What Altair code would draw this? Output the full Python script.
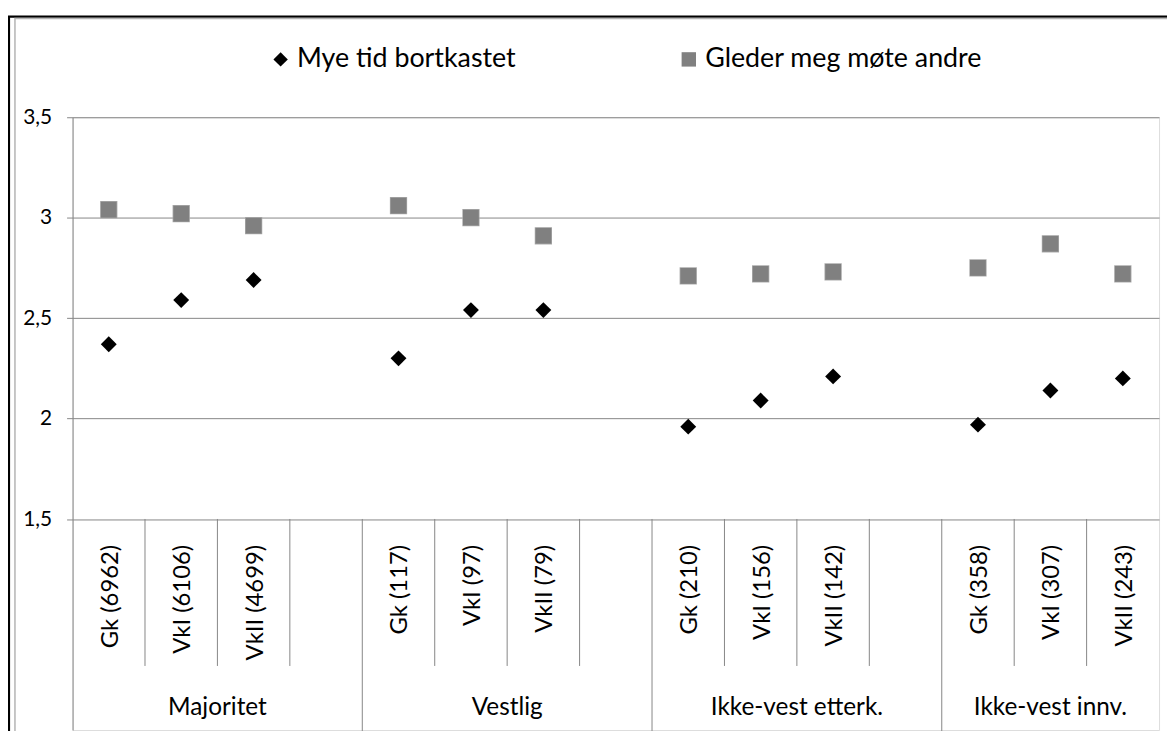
import altair as alt
import pandas as pd

# ---------------- data ----------------
groups = ["Majoritet", "Vestlig", "Ikke-vest etterk.", "Ikke-vest innv."]
group_sizes = [4, 4, 4, 3]
categories = ["Gk (6962)", "VkI (6106)", "VkII (4699)", "",
              "Gk (117)", "VkI (97)", "VkII (79)", "",
              "Gk (210)", "VkI (156)", "VkII (142)", "",
              "Gk (358)", "VkI (307)", "VkII (243)"]
series_names = ["Mye tid bortkastet", "Gleder meg møte andre"]
mye_tid = [2.37, 2.59, 2.69, None, 2.30, 2.54, 2.54, None,
           1.96, 2.09, 2.21, None, 1.97, 2.14, 2.20]
gleder = [3.04, 3.02, 2.96, None, 3.06, 3.00, 2.91, None,
          2.71, 2.72, 2.73, None, 2.75, 2.87, 2.72]
y_ticks = [1.5, 2, 2.5, 3, 3.5]

# ---------------- tables ----------------
n_slots = len(categories)
rows = []
for name, vals in zip(series_names, [mye_tid, gleder]):
    for i, v in enumerate(vals):
        if v is not None:
            rows.append({"pos": i + 0.5, "series": name, "value": v})
points = pd.DataFrame(rows)

cats = pd.DataFrame([{"pos": i + 0.5, "label": c}
                     for i, c in enumerate(categories) if c])

group_bounds = []
acc = 0
for s in group_sizes[:-1]:
    acc += s
    group_bounds.append(acc)
short_seps = pd.DataFrame([{"pos": k} for k in range(1, n_slots)
                           if k not in group_bounds])
long_seps = pd.DataFrame([{"pos": k} for k in group_bounds])

gstarts = []
acc = 0
for g, s in zip(groups, group_sizes):
    gstarts.append({"pos": acc + s / 2, "label": g})
    acc += s
group_df = pd.DataFrame(gstarts)

# ---------------- layout constants ----------------
W, H = 1094, 617
AXIS_Y = 404.5          # pixel of the 1.5 line inside the plot
SEP_END = 552.5
CAT_Y = 430.5
GROUP_Y = 595
GRID = "#868686"
FONT = "Lato"

xscale = alt.Scale(domain=[0, n_slots], nice=False, zero=False)
yscale = alt.Scale(domain=[0.45, 3.5], nice=False, zero=False)

legend = alt.Legend(
    title=None, orient="none", direction="horizontal",
    legendX=196, legendY=-72, columnPadding=160,
    labelFont=FONT, labelFontSize=27, labelColor="#000000", labelLimit=0,
    labelOffset=3, symbolSize=210, symbolStrokeWidth=0, padding=0,
)

base_pts = alt.Chart(points).encode(
    x=alt.X("pos:Q", scale=xscale, axis=None),
    y=alt.Y("value:Q", scale=yscale,
            axis=alt.Axis(values=y_ticks, grid=True, gridColor=GRID,
                          domainColor=GRID, tickColor=GRID, tickSize=6,
                          labelFont=FONT, labelFontSize=21,
                          labelColor="#000000", labelPadding=15,
                          labelExpr="replace(format(datum.value, '~g'), '.', ',')",
                          title=None)),
)

pts = base_pts.mark_point(filled=True, size=256, opacity=1).encode(
    shape=alt.Shape("series:N",
                    scale=alt.Scale(domain=series_names, range=["diamond", "square"]),
                    legend=legend),
    color=alt.Color("series:N",
                    scale=alt.Scale(domain=series_names, range=["#000000", "#808080"]),
                    legend=legend),
)

sq_edge = base_pts.transform_filter(
    alt.datum.series == series_names[1]
).mark_point(shape="square", filled=False, size=262, stroke="#ababab",
             strokeWidth=1.2, opacity=1)

short_rules = alt.Chart(short_seps).mark_rule(color=GRID, strokeWidth=1).encode(
    x=alt.X("pos:Q", scale=xscale, axis=None),
    y=alt.value(AXIS_Y), y2=alt.value(SEP_END),
)
long_rules = alt.Chart(long_seps).mark_rule(color=GRID, strokeWidth=1).encode(
    x=alt.X("pos:Q", scale=xscale, axis=None),
    y=alt.value(AXIS_Y), y2=alt.value(H + 20),
)

cat_text = alt.Chart(cats).mark_text(
    angle=270, align="right", baseline="middle", font=FONT, fontSize=24,
    color="#000000", dy=2,
).encode(
    x=alt.X("pos:Q", scale=xscale, axis=None),
    y=alt.value(CAT_Y), text="label:N",
)

group_text = alt.Chart(group_df).mark_text(
    align="center", baseline="middle", font=FONT, fontSize=24.5, color="#000000",
).encode(
    x=alt.X("pos:Q", scale=xscale, axis=None),
    y=alt.value(GROUP_Y), text="label:N",
)

frame_outer = alt.Chart(group_df).transform_filter("datum.label == '%s'" % groups[0]).mark_rect(
    fill=None, stroke="#000000", strokeWidth=2.2
).encode(x=alt.value(-64), x2=alt.value(W + 40), y=alt.value(-101.3), y2=alt.value(H + 40))

frame_inner = alt.Chart(group_df).transform_filter("datum.label == '%s'" % groups[0]).mark_rect(
    fill=None, stroke="#b4b4b4", strokeWidth=1.5
).encode(x=alt.value(-58), x2=alt.value(W + 34), y=alt.value(-99.5), y2=alt.value(H + 34))

chart = alt.layer(
    frame_outer, frame_inner, short_rules, long_rules, cat_text, group_text,
    sq_edge, pts,
).properties(
    width=W, height=H,
    autosize=alt.AutoSizeParams(type="none"),
    padding={"left": 65, "top": 107.5, "right": 8, "bottom": 0},
).configure_view(stroke=GRID, strokeWidth=1).configure(background="#ffffff")

chart.save("out.html", embed_options={"renderer": "svg", "actions": False})
